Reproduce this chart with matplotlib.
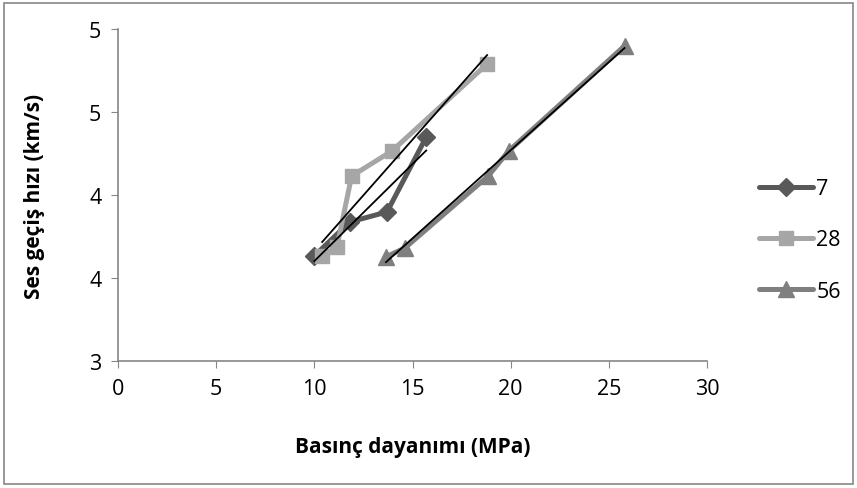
import numpy as np
import matplotlib
matplotlib.use('Agg')
import matplotlib.pyplot as plt
from matplotlib.patches import Rectangle

plt.rcParams['font.family'] = ['Open Sans', 'DejaVu Sans']

# 7 gunluk
x7 = [10.0, 11.8, 13.7, 15.7]
y7 = [3.633, 3.837, 3.898, 4.349]
# 28 gunluk
x28 = [10.4, 11.15, 11.9, 13.95, 18.8]
y28 = [3.633, 3.687, 4.114, 4.265, 4.789]
# 56 gunluk
x56 = [13.65, 14.6, 18.85, 19.9, 25.8]
y56 = [3.627, 3.68, 4.114, 4.265, 4.898]

series = [
    ('7', x7, y7, '#595959', 'D', 9),
    ('28', x28, y28, '#A6A6A6', 's', 10),
    ('56', x56, y56, '#7F7F7F', '^', 11),
]

yticks = [3.0, 3.5, 4.0, 4.5, 5.0]
ylabels = ['3', '4', '4', '5', '5']   # Excel rounds to 0 decimals
xticks = [0, 5, 10, 15, 20, 25, 30]

fig = plt.figure(figsize=(8.57, 4.89), dpi=100)
ax = fig.add_axes([118/857, 1 - 362/489, (707-118)/857, (362-30)/489])

for name, xs, ys, c, m, ms in series:
    ax.plot(xs, ys, color=c, lw=3.6, marker=m, ms=ms, label=name,
            solid_capstyle='round', solid_joinstyle='round')

# linear trend lines
for name, xs, ys, c, m, ms in series:
    k, b = np.polyfit(xs, ys, 1)
    xx = np.array([min(xs), max(xs)])
    ax.plot(xx, k * xx + b, color='black', lw=1.3, zorder=5)

ax.set_xlim(0, 30)
ax.set_ylim(3, 5)
ax.set_xticks(xticks)
ax.set_yticks(yticks)
ax.set_yticklabels(ylabels)
ax.tick_params(labelsize=15.5, color='#868686', length=5, direction='out', pad=7)
for s in ['top', 'right']:
    ax.spines[s].set_visible(False)
for s in ['left', 'bottom']:
    ax.spines[s].set_color('#868686')
    ax.spines[s].set_linewidth(1.2)

ax.set_xlabel('Basınç dayanımı (MPa)', fontsize=15, fontweight='bold', labelpad=27)
ax.set_ylabel('Ses geçiş hızı (km/s)', fontsize=15, fontweight='bold', labelpad=32)

ax.legend(loc='center left', bbox_to_anchor=(740/857, 1 - 241/489), bbox_transform=fig.transFigure,
          frameon=False, fontsize=15.5, handlelength=2.5, labelspacing=1.4, handletextpad=0.15)

fig.patches.append(Rectangle((4/857, 4/489), 849/857, 481/489, transform=fig.transFigure,
                             fill=False, edgecolor='#868686', lw=1.2))

fig.savefig('out.png', dpi=100)
